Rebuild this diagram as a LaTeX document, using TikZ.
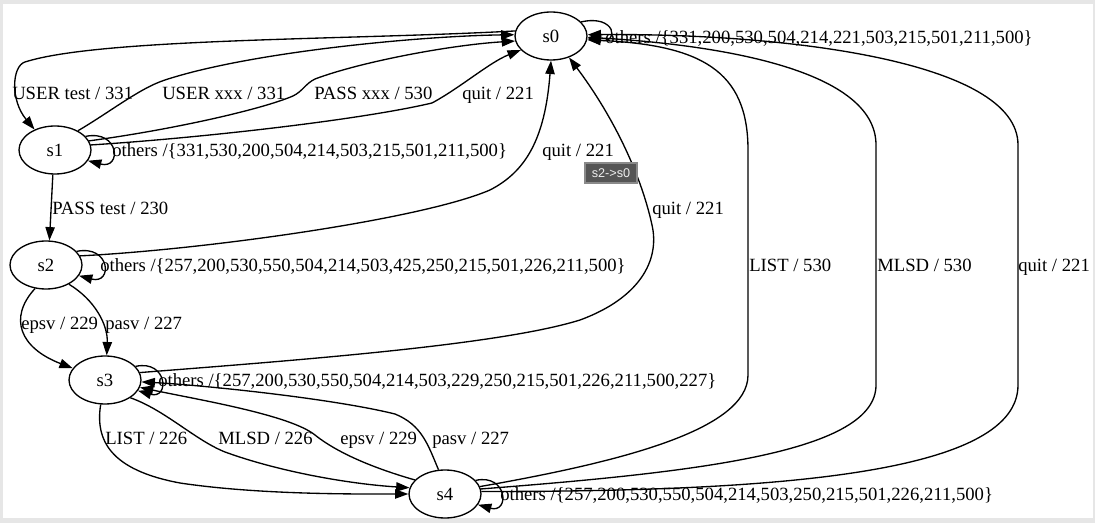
\documentclass[tikz,border=0pt]{standalone}
\usepackage{fontspec}
\setmainfont{Liberation Serif}
\newfontfamily\tipfont{Liberation Sans}
\usetikzlibrary{arrows.meta,shapes.geometric}
\definecolor{framegray}{HTML}{E6E6E6}
\definecolor{tipfill}{HTML}{555555}
\definecolor{tipline}{HTML}{8A8A8A}
\definecolor{tiptext}{HTML}{EEEEEE}
\begin{document}
\begin{tikzpicture}[x=0.75pt,y=-0.75pt,
  state/.style={draw, ellipse, minimum width=54pt, minimum height=36pt, inner sep=0pt,
    line width=1pt, font=\fontsize{14}{16}\selectfont},
  edge/.style={draw, line width=1pt, -{Triangle[length=10pt,width=7pt]}},
  lbl/.style={anchor=base west, inner sep=0pt, font=\fontsize{14}{16}\selectfont},
  tipbox/.style={fill=tipfill, draw=tipline, line width=1pt, text=tiptext,
    minimum width=39pt, minimum height=15pt, inner sep=0pt, font=\tipfont\fontsize{9.5}{11}\selectfont},
]
% page frame
\fill[framegray] (0,0) rectangle (1095,523);
\fill[white] (3,4) rectangle (1093,518);
\useasboundingbox (0,0) rectangle (1095,523);

% states
\node[state] (s0) at (551,36) {s0};
\node[state] (s1) at (55,150) {s1};
\node[state] (s2) at (46,265) {s2};
\node[state] (s3) at (105,380) {s3};
\node[state] (s4) at (445,494) {s4};

% s0 <-> s1
\draw[edge] (s0.172) .. controls (350,40) and (100,38) .. (25,62) .. controls (12,66) and (10,100) .. (s1.135);
\draw[edge] (s1.40) .. controls (110,112) and (140,88) .. (165,80) .. controls (250,52) and (420,36) .. (s0.178);
\draw[edge] (s1.15) .. controls (170,130) and (260,110) .. (293,96) .. controls (303,91) and (305,84) .. (315,79) .. controls (360,62) and (450,45) .. (s0.188);
\draw[edge] (s1.8) .. controls (200,138) and (360,120) .. (432,103) .. controls (460,88) and (490,62) .. (s0.205);

% self loops
\draw[edge] (s0.25) .. controls +(35,-8) and +(32,6) .. (s0.-3);
\draw[edge] (s1.24) .. controls +(34,-7) and +(34,9) .. (s1.-18);
\draw[edge] (s2.24) .. controls +(34,-7) and +(34,9) .. (s2.-18);
\draw[edge] (s3.24) .. controls +(32,-7) and +(32,9) .. (s3.-18);
\draw[edge] (s4.24) .. controls +(32,-7) and +(32,9) .. (s4.-18);

% s1 -> s2
\draw[edge] (s1.-95) -- (s2.82);

% s2 -> s0, s2 -> s3
\draw[edge] (s2.15) .. controls (200,250) and (420,220) .. (490,190) .. controls (525,172) and (545,140) .. (s0.-90);
\draw[edge] (s2.-115) .. controls (8,318) and (20,348) .. (s3.160);
\draw[edge] (s2.-40) .. controls (95,300) and (108,325) .. (s3.86);

% s3 -> s0
\draw[edge] (s3.12) .. controls (300,360) and (500,345) .. (580,320) .. controls (640,298) and (660,260) .. (652,225) .. controls (640,170) and (610,112) .. (s0.-50);

% s3 <-> s4
\draw[edge] (s3.-100) .. controls (95,440) and (110,470) .. (180,483) .. controls (260,495) and (360,494) .. (s4.180);
\draw[edge] (s3.-35) .. controls (165,410) and (195,440) .. (225,452) .. controls (280,472) and (350,484) .. (s4.170);
\draw[edge] (s4.155) .. controls (380,470) and (340,455) .. (315,435) .. controls (290,415) and (200,400) .. (s3.-12);
\draw[edge] (s4.105) .. controls (428,445) and (422,425) .. (395,414) .. controls (330,398) and (200,385) .. (s3.-3);

% s4 -> s0
\draw[edge] (s4.12) .. controls (620,462) and (748,430) .. (748,375) -- (748,150) .. controls (748,70) and (700,45) .. (s0.-6);
\draw[edge] (s4.8) .. controls (700,472) and (876,452) .. (876,385) -- (876,145) .. controls (876,70) and (720,45) .. (s0.-2);
\draw[edge] (s4.4) .. controls (800,492) and (1018,470) .. (1018,385) -- (1018,145) .. controls (1018,60) and (780,33) .. (s0.2);

% edge labels
\node[lbl] (l00) at (605,43.5) {others /\{331,200,530,504,214,221,503,215,501,211,500\}};
\node[lbl] (l11) at (112,156.5) {others /\{331,530,200,504,214,503,215,501,211,500\}};
\node[lbl] (l22) at (100,271.5) {others /\{257,200,530,550,504,214,503,425,250,215,501,226,211,500\}};
\node[lbl] (l33) at (158,386.5) {others /\{257,200,530,550,504,214,503,229,250,215,501,226,211,500,227\}};
\node[lbl] (l44) at (500,500.5) {others /\{257,200,530,550,504,214,503,250,215,501,226,211,500\}};
\node[lbl] (l01) at (12,99.5) {USER test / 331};
\node[lbl] (l10a) at (162,99.5) {USER xxx / 331};
\node[lbl] (l10b) at (314,99.5) {PASS xxx / 530};
\node[lbl] (l10c) at (462,99.5) {quit / 221};
\node[lbl] (l12) at (52,214.5) {PASS test / 230};
\node[lbl] (l20) at (542,156.5) {quit / 221};
\node[lbl] (l30) at (652,214.5) {quit / 221};
\node[lbl] (l23a) at (21,329.5) {epsv / 229};
\node[lbl] (l23b) at (105,329.5) {pasv / 227};
\node[lbl] (l34a) at (105,444.5) {LIST / 226};
\node[lbl] (l34b) at (218,444.5) {MLSD / 226};
\node[lbl] (l43a) at (340,444.5) {epsv / 229};
\node[lbl] (l43b) at (432,444.5) {pasv / 227};
\node[lbl] (l40a) at (749,271.5) {LIST / 530};
\node[lbl] (l40b) at (877,271.5) {MLSD / 530};
\node[lbl] (l40c) at (1018,271.5) {quit / 221};

% hover tip
\node[tipbox] (tip) at (611,173) {s2->s0};
\end{tikzpicture}
\end{document}
